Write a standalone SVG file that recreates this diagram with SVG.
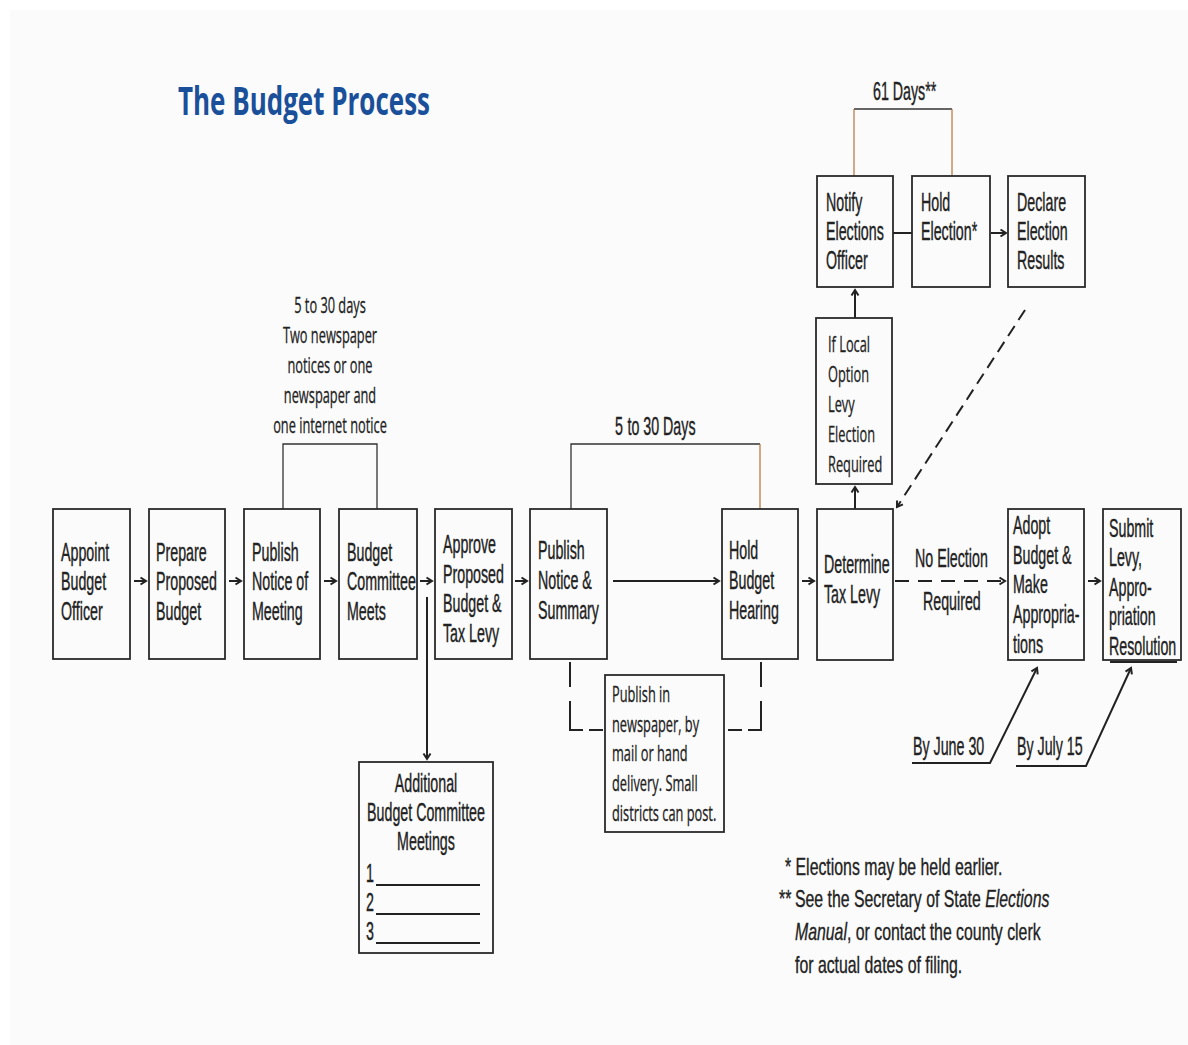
<svg xmlns="http://www.w3.org/2000/svg" width="1188" height="1045" viewBox="0 0 1188 1045">
<style>
.n{font-family:"Liberation Sans",Arial,sans-serif;font-size:25px;fill:#222;stroke:#222;stroke-width:0.4}
.m{font-family:"Open Sans","Noto Sans",sans-serif;font-size:21px;fill:#222;stroke:#222;stroke-width:0.3}
.f{font-family:"Liberation Sans",Arial,sans-serif;font-size:24px;fill:#222;stroke:#222;stroke-width:0.35}
.box{fill:none;stroke:#2a2a2a;stroke-width:1.8}
.ln{fill:none;stroke:#222;stroke-width:2}
.br{fill:none;stroke:#333;stroke-width:1.3}
.or{fill:none;stroke:#b8733a;stroke-width:1.2}
.ds{fill:none;stroke:#222;stroke-width:2}
</style>
<defs>
<marker id="ah" markerWidth="10" markerHeight="10" refX="8" refY="5" orient="auto" markerUnits="userSpaceOnUse">
<path d="M2.5,1.5 L8,5 L2.5,8.5" fill="none" stroke="#222" stroke-width="2"/>
</marker>
</defs>
<rect x="0" y="0" width="1188" height="1045" fill="#ffffff"/>
<rect x="10" y="10" width="1178" height="1035" fill="#fbfbfb"/>

<text x="178" y="115" textLength="252" lengthAdjust="spacingAndGlyphs" style="font-family:'Open Sans','Noto Sans',sans-serif;font-weight:bold;font-size:39px;fill:#1a4f9a">The Budget Process</text>

<g id="connectors">
<line class="ln" x1="134" y1="581" x2="146" y2="581" marker-end="url(#ah)"/>
<line class="ln" x1="229" y1="581" x2="241" y2="581" marker-end="url(#ah)"/>
<line class="ln" x1="324" y1="581" x2="336" y2="581" marker-end="url(#ah)"/>
<line class="ln" x1="420" y1="581" x2="432" y2="581" marker-end="url(#ah)"/>
<line class="ln" x1="515" y1="581" x2="527" y2="581" marker-end="url(#ah)"/>
<line class="ln" x1="613" y1="581" x2="719" y2="581" stroke-width="2.6" marker-end="url(#ah)"/>
<line class="ln" x1="802" y1="581" x2="814" y2="581" marker-end="url(#ah)"/>
<line class="ln" x1="895" y1="581" x2="1005" y2="581" stroke-dasharray="14 9" marker-end="url(#ah)"/>
<line class="ln" x1="1088" y1="581" x2="1100" y2="581" marker-end="url(#ah)"/>
<line class="ln" x1="427" y1="597" x2="427" y2="759" marker-end="url(#ah)"/>
<line class="ln" x1="855" y1="509" x2="855" y2="487" marker-end="url(#ah)"/>
<line class="ln" x1="855" y1="318" x2="855" y2="290" marker-end="url(#ah)"/>
<line class="ln" x1="893" y1="233" x2="912" y2="233" stroke-width="3"/>
<line class="ln" x1="991" y1="233" x2="1006" y2="233" marker-end="url(#ah)"/>
<line class="ln" x1="1025" y1="310" x2="897" y2="507" stroke-dasharray="12 7" marker-end="url(#ah)"/>
<polyline class="ln" points="912,763 990,763 1037,668" marker-end="url(#ah)"/>
<polyline class="ln" points="1016,766 1086,766 1131,668" marker-end="url(#ah)"/>
<path class="br" d="M283,509 V444 H377 V509"/>
<path class="br" d="M571,509 V444 H760"/>
<path class="or" d="M760,444 V509"/>
<path class="br" d="M854,109 H952"/>
<path class="or" d="M854,109 V176 M952,109 V176"/>
<path class="ds" d="M570,662 V730 H604" stroke-dasharray="25 14 42 6 14"/>
<path class="ds" d="M761,662 V730 H725" stroke-dasharray="25 14 42 6 14"/>
<line x1="1110" y1="662" x2="1177" y2="662" stroke="#222" stroke-width="2"/>
</g>

<g id="appoint"><rect class="box" x="53" y="509" width="77" height="150"/>
<text class="n" transform="translate(61 561) scale(.57 1)"><tspan x="0">Appoint</tspan><tspan x="0" dy="29.5">Budget</tspan><tspan x="0" dy="29.5">Officer</tspan></text></g>

<g id="prepare"><rect class="box" x="149" y="509" width="76" height="150"/>
<text class="n" transform="translate(156 561) scale(.57 1)"><tspan x="0">Prepare</tspan><tspan x="0" dy="29.5">Proposed</tspan><tspan x="0" dy="29.5">Budget</tspan></text></g>

<g id="publish-notice"><rect class="box" x="244" y="509" width="76" height="150"/>
<text class="n" transform="translate(252 561) scale(.57 1)"><tspan x="0">Publish</tspan><tspan x="0" dy="29.5">Notice of</tspan><tspan x="0" dy="29.5">Meeting</tspan></text></g>

<g id="committee"><rect class="box" x="339" y="509" width="78" height="150"/>
<text class="n" transform="translate(347 561) scale(.57 1)"><tspan x="0">Budget</tspan><tspan x="0" dy="29.5">Committee</tspan><tspan x="0" dy="29.5">Meets</tspan></text></g>

<g id="approve"><rect class="box" x="435" y="509" width="77" height="150"/>
<text class="n" transform="translate(443 553) scale(.57 1)"><tspan x="0">Approve</tspan><tspan x="0" dy="29.7">Proposed</tspan><tspan x="0" dy="29.7">Budget &amp;</tspan><tspan x="0" dy="29.7">Tax Levy</tspan></text></g>

<g id="publish-summary"><rect class="box" x="530" y="509" width="77" height="150"/>
<text class="n" transform="translate(538 559) scale(.57 1)"><tspan x="0">Publish</tspan><tspan x="0" dy="30">Notice &amp;</tspan><tspan x="0" dy="30">Summary</tspan></text></g>

<g id="hearing"><rect class="box" x="722" y="509" width="76" height="150"/>
<text class="n" transform="translate(729 559) scale(.57 1)"><tspan x="0">Hold</tspan><tspan x="0" dy="30">Budget</tspan><tspan x="0" dy="30">Hearing</tspan></text></g>

<g id="determine"><rect class="box" x="817" y="509" width="76" height="151"/>
<text class="n" transform="translate(824 573) scale(.57 1)"><tspan x="0">Determine</tspan><tspan x="0" dy="30">Tax Levy</tspan></text></g>

<g id="adopt"><rect class="box" x="1008" y="509" width="76" height="151"/>
<text class="n" transform="translate(1013 534) scale(.57 1)"><tspan x="0">Adopt</tspan><tspan x="0" dy="29.7">Budget &amp;</tspan><tspan x="0" dy="29.7">Make</tspan><tspan x="0" dy="29.7">Appropria-</tspan><tspan x="0" dy="29.7">tions</tspan></text></g>

<g id="submit"><rect class="box" x="1103" y="509" width="78" height="151"/>
<text class="n" transform="translate(1109 537) scale(.57 1)"><tspan x="0">Submit</tspan><tspan x="0" dy="29.5">Levy,</tspan><tspan x="0" dy="29.5">Appro-</tspan><tspan x="0" dy="29.5">priation</tspan><tspan x="0" dy="29.5">Resolution</tspan></text></g>

<g id="notify"><rect class="box" x="817" y="176" width="76" height="111"/>
<text class="n" transform="translate(826 211) scale(.57 1)"><tspan x="0">Notify</tspan><tspan x="0" dy="29">Elections</tspan><tspan x="0" dy="29">Officer</tspan></text></g>

<g id="hold-election"><rect class="box" x="912" y="176" width="78" height="111"/>
<text class="n" transform="translate(921 211) scale(.57 1)"><tspan x="0">Hold</tspan><tspan x="0" dy="29">Election*</tspan></text></g>

<g id="declare"><rect class="box" x="1008" y="176" width="77" height="111"/>
<text class="n" transform="translate(1017 211) scale(.57 1)"><tspan x="0">Declare</tspan><tspan x="0" dy="29">Election</tspan><tspan x="0" dy="29">Results</tspan></text></g>

<g id="local-option"><rect class="box" x="816" y="318" width="76" height="166"/>
<text class="m" transform="translate(828 352) scale(.61 1)"><tspan x="0">If Local</tspan><tspan x="0" dy="30">Option</tspan><tspan x="0" dy="30">Levy</tspan><tspan x="0" dy="30">Election</tspan><tspan x="0" dy="30">Required</tspan></text></g>

<g id="publish-in"><rect class="box" x="605" y="675" width="119" height="157"/>
<text class="m" transform="translate(612 702) scale(.61 1)"><tspan x="0">Publish in</tspan><tspan x="0" dy="29.7">newspaper, by</tspan><tspan x="0" dy="29.7">mail or hand</tspan><tspan x="0" dy="29.7">delivery. Small</tspan><tspan x="0" dy="29.7">districts can post.</tspan></text></g>

<g id="additional"><rect class="box" x="359" y="762" width="134" height="191"/>
<text class="n" text-anchor="middle" transform="translate(426 792) scale(.57 1)"><tspan x="0">Additional</tspan><tspan x="0" dy="29">Budget Committee</tspan><tspan x="0" dy="29">Meetings</tspan></text>
<text class="n" transform="translate(366 882) scale(.57 1)"><tspan x="0">1</tspan><tspan x="0" dy="29">2</tspan><tspan x="0" dy="29">3</tspan></text>
<path d="M376,885 H480 M376,914 H480 M376,943 H480" stroke="#222" stroke-width="1.8" fill="none"/></g>

<g id="labels">
<text class="m" text-anchor="middle" transform="translate(330 313) scale(.61 1)"><tspan x="0">5 to 30 days</tspan><tspan x="0" dy="30">Two newspaper</tspan><tspan x="0" dy="30">notices or one</tspan><tspan x="0" dy="30">newspaper and</tspan><tspan x="0" dy="30">one internet notice</tspan></text>
<text class="n" transform="translate(615 435) scale(.57 1)">5<tspan dx="8">to 30 Days</tspan></text>
<text class="n" transform="translate(873 100) scale(.57 1)">61 Days**</text>
<text class="n" transform="translate(915 567) scale(.57 1)">No Election</text>
<text class="n" transform="translate(923 610) scale(.57 1)">Required</text>
<text class="n" transform="translate(913 755) scale(.57 1)">By June 30</text>
<text class="n" transform="translate(1017 755) scale(.57 1)">By July 15</text>
</g>

<g id="footnotes">
<text class="f" transform="translate(785 875) scale(.66 1)">* Elections may be held earlier.</text>
<text class="f" transform="translate(779 907) scale(.66 1)">**</text>
<text class="f" transform="translate(795 907) scale(.66 1)">See the Secretary of State <tspan font-style="italic">Elections</tspan></text>
<text class="f" transform="translate(795 940) scale(.66 1)"><tspan font-style="italic">Manual</tspan>, or contact the county clerk</text>
<text class="f" transform="translate(795 973) scale(.66 1)">for actual dates of filing.</text>
</g>
</svg>
